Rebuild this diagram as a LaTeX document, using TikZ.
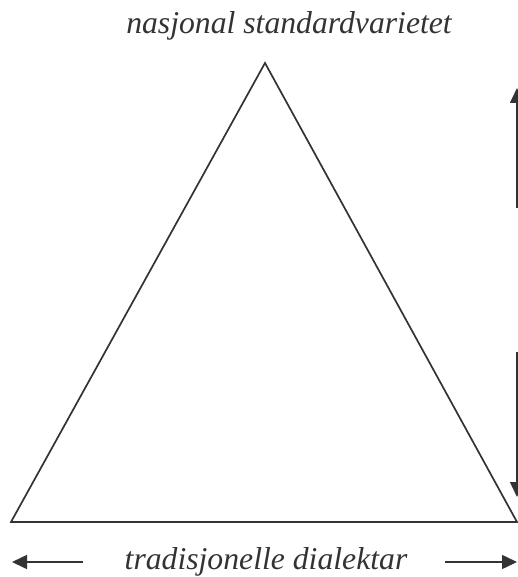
\documentclass[tikz,border=0pt]{standalone}
\usepackage{fontspec}
\setmainfont{Liberation Serif}
\usetikzlibrary{arrows.meta}
\definecolor{ink}{HTML}{333333}
\tikzset{
  edge/.style={draw=ink, line width=1.7pt, line join=miter},
  dirarrow/.style={draw=ink, line width=1.5pt, -{Triangle[length=15pt,width=14pt]}},
  label/.style={text=ink, inner sep=0pt, anchor=base, font=\fontsize{31.7}{38}\selectfont\itshape}
}
\begin{document}
\begin{tikzpicture}[x=1pt,y=-1pt]
  \useasboundingbox (0,0) rectangle (518,577);
  % triangle corners
  \coordinate (apex) at (265,63);
  \coordinate (bl) at (11,522);
  \coordinate (br) at (517,522);
  \draw[edge] (bl) -- (apex) -- (br) -- cycle;
  % labels
  \node[label] (top) at (289,34) {nasjonal standardvarietet};
  \node[label] (bottom) at (266,569) {tradisjonelle dialektar};
  % vertical arrows on the right
  \coordinate (v1s) at (517,208);
  \coordinate (v1e) at (517,88);
  \coordinate (v2s) at (517,352);
  \coordinate (v2e) at (517,497);
  \draw[dirarrow] (v1s) -- (v1e);
  \draw[dirarrow] (v2s) -- (v2e);
  % horizontal arrows at the bottom
  \coordinate (h1s) at (83,562);
  \coordinate (h1e) at (12,562);
  \coordinate (h2s) at (445,562);
  \coordinate (h2e) at (517,562);
  \draw[dirarrow] (h1s) -- (h1e);
  \draw[dirarrow] (h2s) -- (h2e);
\end{tikzpicture}
\end{document}
